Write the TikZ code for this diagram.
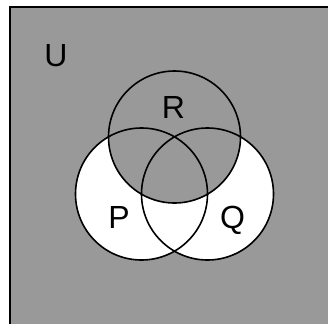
\documentclass[tikz,border=0pt]{standalone}
\usepackage{fontspec}
\setmainfont{Liberation Sans}
\definecolor{ugray}{HTML}{999999}
\begin{document}
\begin{tikzpicture}[x=1bp,y=-1bp,
  setline/.style={line width=1.6bp,draw=black},
  setlabel/.style={font=\fontsize{32bp}{36bp}\selectfont,anchor=base,inner sep=0pt}]
\useasboundingbox (0,0) rectangle (328,324);
% universe
\fill[ugray] (10,7) rectangle (340,340);
\draw[line width=1.6bp] (340,7) -- (10,7) -- (10,340);
% circle centres
\coordinate (cP) at (141.5,194);
\coordinate (cQ) at (207.5,194);
\coordinate (cR) at (174.5,137);
\def\rad{66}
% (P union Q) minus R is white
\fill[white] (cP) circle (\rad) (cQ) circle (\rad);
\fill[ugray] (cR) circle (\rad);
\draw[setline] (cP) circle (\rad);
\draw[setline] (cQ) circle (\rad);
\draw[setline] (cR) circle (\rad);
% labels
\node[setlabel] (lU) at (56,66.5) {U};
\node[setlabel] (lR) at (173.5,118) {R};
\node[setlabel] (lP) at (119,228.5) {P};
\node[setlabel] (lQ) at (232.5,228.5) {Q};
\end{tikzpicture}
\end{document}
